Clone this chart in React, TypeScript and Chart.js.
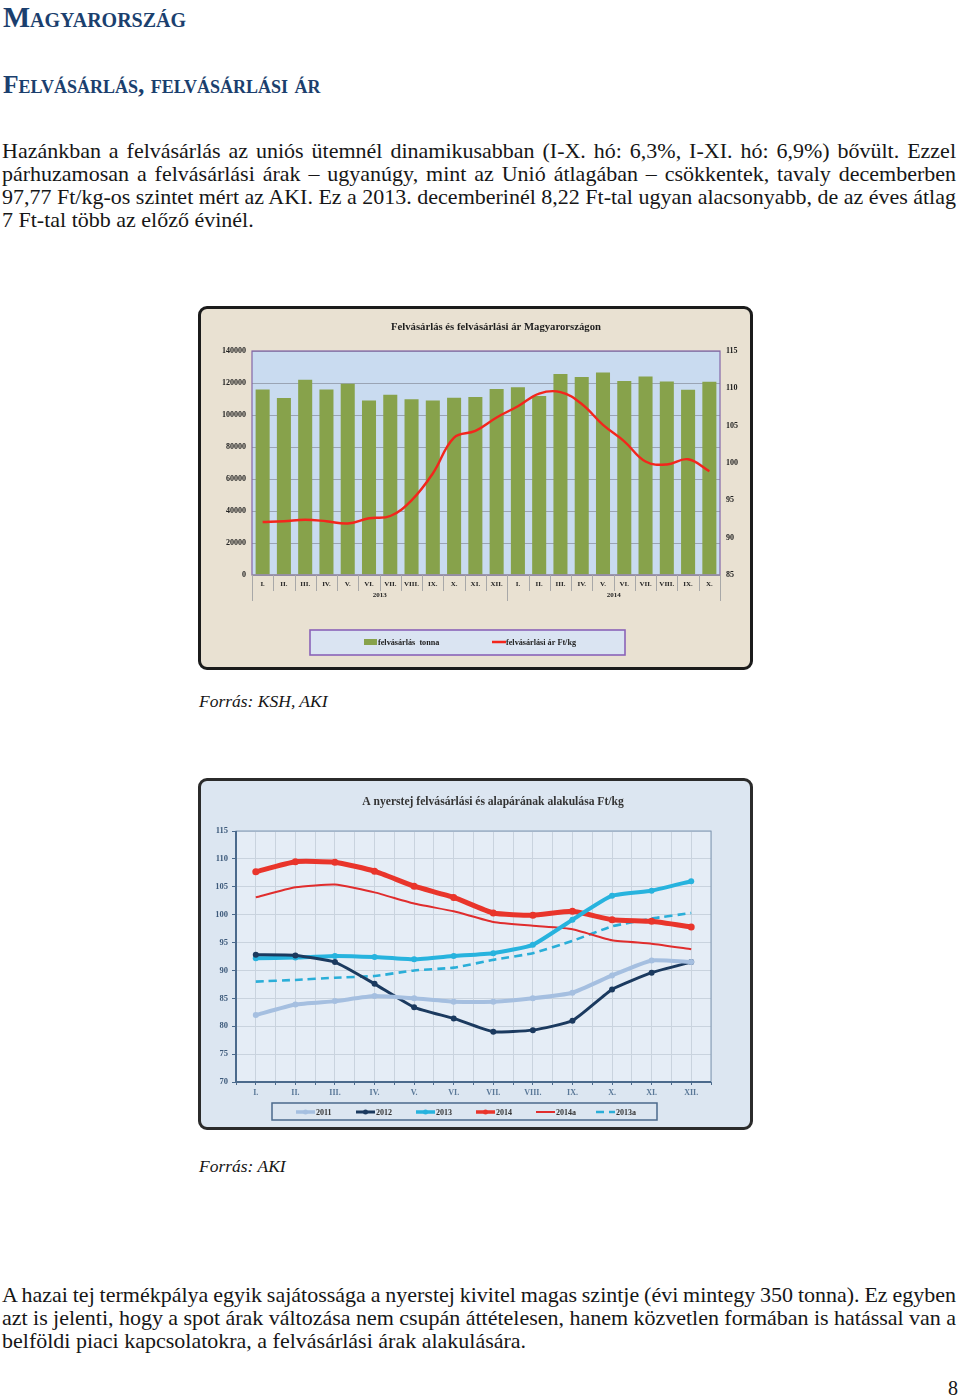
import React, { useEffect, useRef } from "react";
import { Chart, registerables } from "chart.js";
Chart.register(...registerables);

const SERIF = '"Liberation Serif", "Times New Roman", serif';

// ---------- Chart 1 data ----------
const months2013 = ["I.", "II.", "III.", "IV.", "V.", "VI.", "VII.", "VIII.", "IX.", "X.", "XI.", "XII."];
const months2014 = ["I.", "II.", "III.", "IV.", "V.", "VI.", "VII.", "VIII.", "IX.", "X."];
const yearLabels = ["2013", "2014"];
const purchaseTonnes = [116000, 110600, 122100, 116000, 119600, 109000, 112700, 109800, 109000, 110800, 111200, 116200,
  117300, 111900, 125600, 123700, 126500, 121200, 124000, 121000, 115800, 120800];
const purchasePrice = [92.1, 92.2, 92.4, 92.2, 91.9, 92.6, 92.9, 95.0, 98.6, 103.4, 104.3, 106.1,
  107.6, 109.3, 109.5, 107.9, 105.1, 102.9, 100.2, 99.8, 100.5, 98.9];

// ---------- Chart 2 data ----------
const monthsAll = ["I.", "II.", "III.", "IV.", "V.", "VI.", "VII.", "VIII.", "IX.", "X.", "XI.", "XII."];
const s2011 = [82.0, 83.9, 84.5, 85.4, 85.0, 84.4, 84.4, 85.0, 86.0, 89.1, 91.8, 91.5];
const s2012 = [92.8, 92.7, 91.5, 87.6, 83.4, 81.4, 79.0, 79.3, 81.0, 86.6, 89.6, 91.5];
const s2013 = [92.2, 92.3, 92.6, 92.4, 92.0, 92.6, 93.1, 94.6, 99.1, 103.4, 104.3, 106.0];
const s2014 = [107.7, 109.5, 109.4, 107.8, 105.1, 103.1, 100.3, 99.9, 100.6, 99.1, 98.8, 97.8];
const s2014a = [103.1, 104.9, 105.4, 104.0, 102.0, 100.6, 98.7, 98.0, 97.4, 95.4, 94.8, 93.8];
const s2013a = [88.0, 88.3, 88.7, 89.0, 90.0, 90.5, 91.9, 93.1, 95.3, 97.9, 99.3, 100.3];

const toXY = (arr: number[]) => arr.map((v, i) => ({ x: i, y: v }));

function PurchaseChart() {
  const ref = useRef<HTMLCanvasElement>(null);
  useEffect(() => {
    const labels = [...months2013, ...months2014];
    const plotBg = {
      id: "plotBg",
      beforeDraw(chart: any) {
        const { ctx, chartArea: a } = chart;
        ctx.save();
        ctx.fillStyle = "#c9dbf0";
        ctx.fillRect(a.left, a.top, a.right - a.left, a.bottom - a.top);
        ctx.restore();
      },
    };
    const deco = {
      id: "deco",
      afterDraw(chart: any) {
        const { ctx, chartArea: a } = chart;
        const xs = chart.scales.x;
        ctx.save();
        ctx.strokeStyle = "#8466a8";
        ctx.lineWidth = 1.2;
        ctx.strokeRect(a.left, a.top, a.right - a.left, a.bottom - a.top);
        ctx.strokeStyle = "#9a9a9a";
        ctx.beginPath();
        ctx.moveTo(a.left, a.bottom);
        ctx.lineTo(a.right, a.bottom);
        ctx.stroke();
        const n = labels.length;
        const half = (xs.getPixelForValue(1) - xs.getPixelForValue(0)) / 2;
        ctx.strokeStyle = "#a8a8a8";
        ctx.lineWidth = 1;
        for (let i = 0; i <= n; i++) {
          const x = i === n ? xs.getPixelForValue(n - 1) + half : xs.getPixelForValue(i) - half;
          const isYear = i === 0 || i === months2013.length || i === n;
          ctx.beginPath();
          ctx.moveTo(Math.round(x) + 0.5, a.bottom);
          ctx.lineTo(Math.round(x) + 0.5, a.bottom + (isYear ? 26 : 16));
          ctx.stroke();
        }
        ctx.fillStyle = "#222";
        ctx.font = `bold 7px ${SERIF}`;
        ctx.textAlign = "center";
        ctx.textBaseline = "middle";
        const c1 = (xs.getPixelForValue(0) + xs.getPixelForValue(months2013.length - 1)) / 2;
        const c2 = (xs.getPixelForValue(months2013.length) + xs.getPixelForValue(n - 1)) / 2;
        ctx.fillText(yearLabels[0], c1, a.bottom + 20);
        ctx.fillText(yearLabels[1], c2, a.bottom + 20);
        ctx.font = `bold 10.7px ${SERIF}`;
        ctx.fillStyle = "#1e1e1e";
        ctx.fillText("Felvásárlás és felvásárlási ár Magyarországon", 295, 18);
        ctx.fillStyle = "#dae4f2";
        ctx.fillRect(109, 321, 315, 25);
        ctx.strokeStyle = "#8a63b8";
        ctx.lineWidth = 1.6;
        ctx.strokeRect(109, 321, 315, 25);
        const bar = chart.data.datasets[1];
        const line = chart.data.datasets[0];
        ctx.fillStyle = bar.backgroundColor;
        ctx.fillRect(163, 330, 13, 6);
        ctx.font = `bold 8.2px ${SERIF}`;
        ctx.fillStyle = "#222";
        ctx.textAlign = "left";
        ctx.fillText(bar.label, 177, 333.5);
        ctx.strokeStyle = line.borderColor;
        ctx.lineWidth = 2.5;
        ctx.beginPath();
        ctx.moveTo(291, 333);
        ctx.lineTo(305, 333);
        ctx.stroke();
        ctx.fillText(line.label, 305, 333.5);
        ctx.restore();
      },
    };
    const tickFont = { family: SERIF, size: 8, weight: "bold" as const };
    const chart = new Chart(ref.current!, {
      type: "bar",
      data: {
        labels,
        datasets: [
          {
            type: "line",
            label: "felvásárlási ár Ft/kg",
            data: purchasePrice,
            yAxisID: "y1",
            borderColor: "#f3261c",
            borderWidth: 2.4,
            tension: 0.4,
            pointRadius: 0,
            order: 0,
          } as any,
          {
            type: "bar",
            label: "felvásárlás  tonna",
            data: purchaseTonnes,
            yAxisID: "y",
            backgroundColor: "#87a24b",
            barPercentage: 0.66,
            categoryPercentage: 1,
            order: 1,
          },
        ],
      },
      options: {
        animation: false,
        responsive: false,
        layout: { padding: { top: 42, bottom: 62, left: 0, right: 0 } },
        plugins: { legend: { display: false }, tooltip: { enabled: false }, title: { display: false } },
        scales: {
          x: {
            grid: { display: false, drawTicks: false },
            border: { display: false },
            ticks: { autoSkip: false, maxRotation: 0, padding: 5, color: "#222", font: { family: SERIF, size: 7, weight: "bold" } },
            afterFit: (s: any) => { s.height = 30; },
          },
          y: {
            position: "left",
            min: 0,
            max: 140000,
            ticks: { stepSize: 20000, padding: 6, color: "#222", font: tickFont, callback: (v: any) => String(v) },
            grid: { color: "#9aa4b4", drawTicks: false },
            border: { display: false },
            afterFit: (s: any) => { s.width = 51; },
          },
          y1: {
            position: "right",
            min: 85,
            max: 115,
            ticks: { stepSize: 5, padding: 6, color: "#222", font: tickFont },
            grid: { display: false, drawTicks: false },
            border: { display: false },
            afterFit: (s: any) => { s.width = 30; },
          },
        },
      } as any,
      plugins: [plotBg, deco],
    });
    return () => chart.destroy();
  }, []);
  return (
    <div style={{ position: "absolute", left: 198, top: 306, width: 549, height: 358, border: "3px solid #1b1b1b", borderRadius: 9, background: "#e9e1d2" }}>
      <canvas ref={ref} width={549} height={358} style={{ display: "block" }} />
    </div>
  );
}

function PriceChart() {
  const ref = useRef<HTMLCanvasElement>(null);
  useEffect(() => {
    const plotBg = {
      id: "plotBg2",
      beforeDraw(chart: any) {
        const { ctx, chartArea: a } = chart;
        ctx.save();
        ctx.fillStyle = "#e5edf6";
        ctx.fillRect(a.left, a.top, a.right - a.left, a.bottom - a.top);
        ctx.restore();
      },
    };
    const deco = {
      id: "deco2",
      afterDraw(chart: any) {
        const { ctx, chartArea: a } = chart;
        ctx.save();
        ctx.strokeStyle = "#7f98b4";
        ctx.lineWidth = 1;
        ctx.strokeRect(a.left, a.top, a.right - a.left, a.bottom - a.top);
        ctx.strokeStyle = "#4b6a8c";
        ctx.lineWidth = 2;
        ctx.beginPath();
        ctx.moveTo(a.left, a.top);
        ctx.lineTo(a.left, a.bottom);
        ctx.lineTo(a.right, a.bottom);
        ctx.stroke();
        ctx.font = `bold 11.6px ${SERIF}`;
        ctx.fillStyle = "#333";
        ctx.textAlign = "center";
        ctx.textBaseline = "middle";
        ctx.fillText("A nyerstej felvásárlási és alapárának alakulása Ft/kg", 292, 21);
        ctx.strokeStyle = "#4b6a8c";
        ctx.lineWidth = 1.5;
        ctx.strokeRect(71, 322, 385, 17);
        ctx.font = `bold 8px ${SERIF}`;
        ctx.textAlign = "left";
        const y = 331;
        chart.data.datasets.forEach((ds: any, i: number) => {
          const x0 = 95 + i * 60;
          ctx.strokeStyle = ds.borderColor;
          ctx.lineWidth = Math.min(ds.borderWidth, 3.5);
          ctx.setLineDash(ds.borderDash || []);
          ctx.beginPath();
          ctx.moveTo(x0, y);
          ctx.lineTo(x0 + 19, y);
          ctx.stroke();
          ctx.setLineDash([]);
          if (ds.pointRadius > 0) {
            ctx.fillStyle = ds.borderColor;
            ctx.beginPath();
            ctx.arc(x0 + 9.5, y, 2.5, 0, Math.PI * 2);
            ctx.fill();
          }
          ctx.fillStyle = "#333";
          ctx.fillText(ds.label, x0 + 20, y + 0.5);
        });
        ctx.restore();
      },
    };
    const mk = (label: string, data: number[], color: string, width: number, radius: number, dash?: number[]) => ({
      label,
      data: toXY(data),
      borderColor: color,
      backgroundColor: color,
      borderWidth: width,
      pointRadius: radius,
      pointBorderWidth: 0,
      pointBackgroundColor: color,
      borderDash: dash,
      tension: 0.15,
    });
    const chart = new Chart(ref.current!, {
      type: "line",
      data: {
        datasets: [
          mk("2011", s2011, "#a5bfe0", 4, 3),
          mk("2012", s2012, "#1b3a5f", 3, 3),
          mk("2013", s2013, "#27b3de", 4, 3),
          mk("2014", s2014, "#e9352b", 5, 3.5),
          mk("2014a", s2014a, "#e02d2d", 2, 0),
          mk("2013a", s2013a, "#2aaed8", 2.6, 0, [8, 5]),
        ],
      },
      options: {
        animation: false,
        responsive: false,
        layout: { padding: { top: 50, bottom: 27, left: 0, right: 39 } },
        plugins: { legend: { display: false }, tooltip: { enabled: false } },
        scales: {
          x: {
            type: "linear",
            min: -0.5,
            max: 11.5,
            ticks: {
              stepSize: 0.5,
              maxTicksLimit: 40,
              autoSkip: false,
              maxRotation: 0,
              padding: 3,
              color: "#5a7898",
              font: { family: SERIF, size: 8, weight: "bold" },
              callback: (v: any) => (Number.isInteger(v) ? monthsAll[v] : ""),
            },
            grid: { color: "#c9d3de", tickLength: 3, tickColor: "#4b6a8c" },
            border: { display: false },
            afterFit: (s: any) => { s.height = 18; },
          },
          y: {
            min: 70,
            max: 115,
            ticks: { stepSize: 5, padding: 4, color: "#3d5a7b", font: { family: SERIF, size: 8.5, weight: "bold" } },
            grid: { color: "#c9d3de", tickLength: 4, tickColor: "#4b6a8c" },
            border: { display: false },
            afterFit: (s: any) => { s.width = 35; },
          },
        },
      } as any,
      plugins: [plotBg, deco],
    });
    return () => chart.destroy();
  }, []);
  return (
    <div style={{ position: "absolute", left: 198, top: 778, width: 549, height: 346, border: "3px solid #2b2b2b", borderRadius: 9, background: "#dce6f1" }}>
      <canvas ref={ref} width={549} height={346} style={{ display: "block" }} />
    </div>
  );
}

function Lines({ lines, top }: { lines: string[]; top: number }) {
  return (
    <div style={{ position: "absolute", left: 2, top, width: 954, fontSize: 22, lineHeight: "23px" }}>
      {lines.map((l, i) => {
        const just = i < lines.length - 1;
        return (
          <div key={i} style={{ whiteSpace: "nowrap", wordSpacing: just ? "-3px" : "0px", textAlign: just ? "justify" : "left", textAlignLast: just ? "justify" : "left" } as any}>
            {l}
          </div>
        );
      })}
    </div>
  );
}

export default function App() {
  return (
    <div style={{ position: "absolute", left: 0, top: 0, width: 960, height: 1399, background: "#fff", fontFamily: SERIF, color: "#161616", overflow: "hidden" }}>
      <div style={{ position: "absolute", left: 3, top: 3, fontSize: 28.7, lineHeight: "29px", fontWeight: "bold", fontVariant: "small-caps", color: "#1b3f6e" }}>Magyarország</div>
      <div style={{ position: "absolute", left: 3, top: 72, fontSize: 25.5, lineHeight: "25px", fontWeight: "bold", fontVariant: "small-caps", color: "#1b3f6e" }}>Felvásárlás, felvásárlási ár</div>
      <Lines
        top={139}
        lines={[
          "Hazánkban a felvásárlás az uniós ütemnél dinamikusabban (I-X. hó: 6,3%, I-XI. hó: 6,9%) bővült. Ezzel",
          "párhuzamosan a felvásárlási árak – ugyanúgy, mint az Unió átlagában – csökkentek, tavaly decemberben",
          "97,77 Ft/kg-os szintet mért az AKI. Ez a 2013. decemberinél 8,22 Ft-tal ugyan alacsonyabb, de az éves átlag",
          "7 Ft-tal több az előző évinél.",
        ]}
      />
      <PurchaseChart />
      <div style={{ position: "absolute", left: 199, top: 691, fontSize: 17.5, lineHeight: "20px", fontStyle: "italic" }}>Forrás: KSH, AKI</div>
      <PriceChart />
      <div style={{ position: "absolute", left: 199, top: 1156, fontSize: 17.5, lineHeight: "20px", fontStyle: "italic" }}>Forrás: AKI</div>
      <Lines
        top={1283}
        lines={[
          "A hazai tej termékpálya egyik sajátossága a nyerstej kivitel magas szintje (évi mintegy 350 tonna). Ez egyben",
          "azt is jelenti, hogy a spot árak változása nem csupán áttételesen, hanem közvetlen formában is hatással van a",
          "belföldi piaci kapcsolatokra, a felvásárlási árak alakulására.",
        ]}
      />
      <div style={{ position: "absolute", right: 2, top: 1378, fontSize: 20, lineHeight: "20px" }}>8</div>
    </div>
  );
}
